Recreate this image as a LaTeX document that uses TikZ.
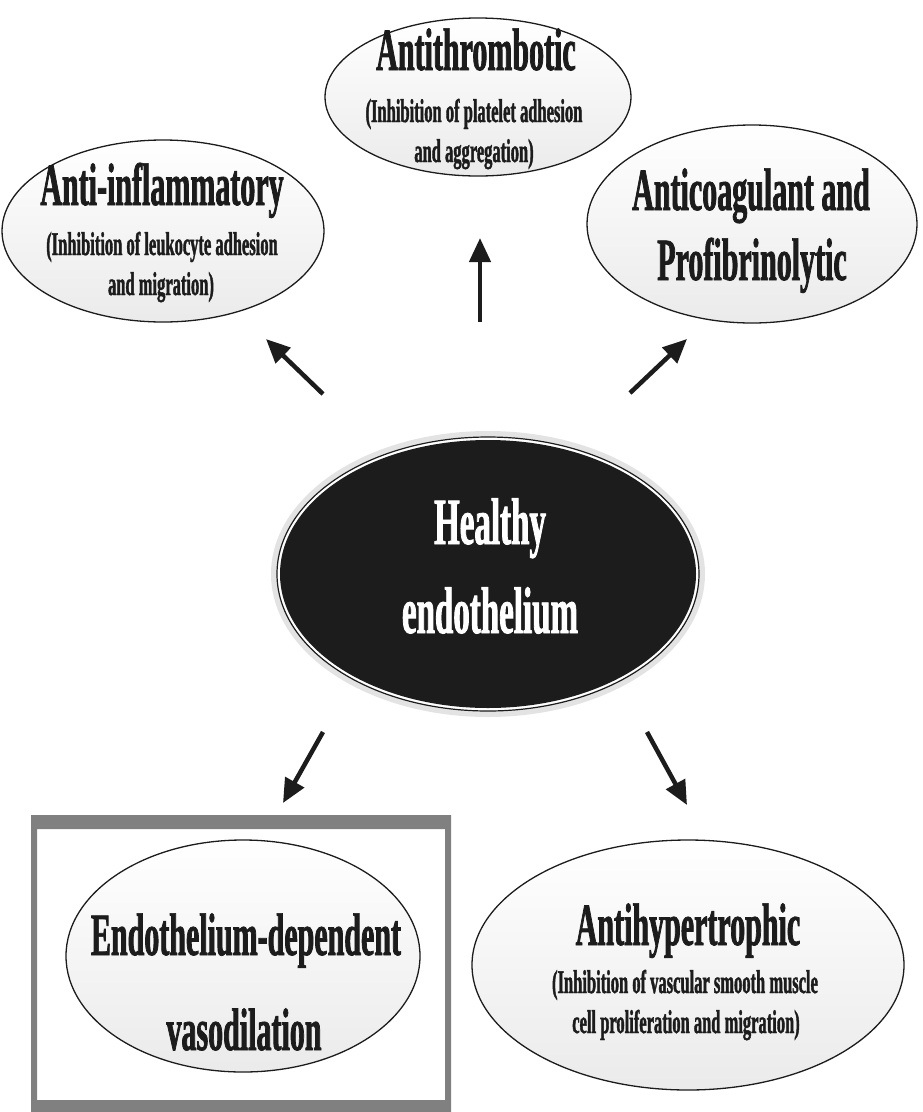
\documentclass[tikz,border=0pt]{standalone}
\usepackage{fontspec}
\setmainfont{Liberation Serif}[FakeStretch=0.5]
\newfontfamily\heavy{Liberation Serif}[FakeStretch=0.5,FakeBold=1.2]
\usetikzlibrary{shapes.geometric,arrows.meta}
\definecolor{boxgray}{HTML}{808080}
\definecolor{ink}{HTML}{1C1C1C}
\tikzset{
  bub/.style={ellipse, draw=ink, line width=1.3pt, inner sep=0pt, top color=white, bottom color=gray!16},
  ttl/.style={anchor=base, inner sep=0pt, text=ink, font=\heavy\fontsize{60}{60}\selectfont\bfseries},
  sub/.style={anchor=base, inner sep=0pt, text=ink, font=\heavy\fontsize{33}{33}\selectfont\bfseries},
  wht/.style={anchor=base, inner sep=0pt, text=white, font=\heavy\fontsize{66}{66}\selectfont\bfseries},
  arr/.style={line width=4.5pt, draw=ink, -{Triangle[length=24pt,width=21pt]}}
}
\begin{document}
\begin{tikzpicture}[x=1pt,y=-1pt]
\useasboundingbox (0,0) rectangle (922,1112);
% frame around vasodilation
\fill[boxgray, even odd rule] (31,815) rectangle (451,1112) (37,829) rectangle (445,1100);
% ellipses
\node[bub, minimum width=306pt, minimum height=158pt] (thr) at (478,97) {};
\node[bub, minimum width=322pt, minimum height=182pt] (inf) at (163,231) {};
\node[bub, minimum width=330pt, minimum height=198pt] (coa) at (752,224) {};
\node[bub, minimum width=354pt, minimum height=232pt] (vas) at (243,956) {};
\node[bub, minimum width=432pt, minimum height=250pt] (hyp) at (688,965) {};
% central ellipse
\node[ellipse, fill=gray!22, inner sep=0pt, minimum width=434pt, minimum height=286pt] (halo) at (488,574) {};
\node[ellipse, fill=white, draw=ink, line width=1.2pt, inner sep=0pt, minimum width=422pt, minimum height=274pt] (ring) at (halo.center) {};
\node[ellipse, fill=ink, inner sep=0pt, minimum width=416pt, minimum height=268pt] (core) at (halo.center) {};
% texts
\node[ttl] (thr1) at (476,70) {Antithrombotic};
\node[sub] (thr2) at (474,122) {(Inhibition of platelet adhesion};
\node[sub] (thr3) at (474,162) {and aggregation)};
\node[ttl] (inf1) at (162,205) {Anti-inflammatory};
\node[sub] (inf2) at (162,255) {(Inhibition of leukocyte adhesion};
\node[sub] (inf3) at (161,295) {and migration)};
\node[ttl] (coa1) at (751,210) {Anticoagulant and};
\node[ttl] (coa2) at (752,280) {Profibrinolytic};
\node[wht] (h1) at (490,544) {Healthy};
\node[wht] (h2) at (490,633) {endothelium};
\node[ttl] (vas1) at (246,955) {Endothelium-dependent};
\node[ttl] (vas2) at (244,1050) {vasodilation};
\node[ttl] (hyp1) at (688,945) {Antihypertrophic};
\node[sub] (hyp2) at (685,993) {(Inhibition of vascular smooth muscle};
\node[sub] (hyp3) at (686,1033) {cell proliferation and migration)};
% arrows
\coordinate (upS) at (480,322); \coordinate (upE) at (480,238);
\coordinate (ulS) at (323,394); \coordinate (ulE) at (266,339);
\coordinate (urS) at (630,393); \coordinate (urE) at (687,339);
\coordinate (llS) at (323,732); \coordinate (llE) at (283,803);
\coordinate (lrS) at (647,732); \coordinate (lrE) at (687,805);
\draw[arr] (upS) -- (upE);
\draw[arr] (ulS) -- (ulE);
\draw[arr] (urS) -- (urE);
\draw[arr] (llS) -- (llE);
\draw[arr] (lrS) -- (lrE);
\end{tikzpicture}
\end{document}
